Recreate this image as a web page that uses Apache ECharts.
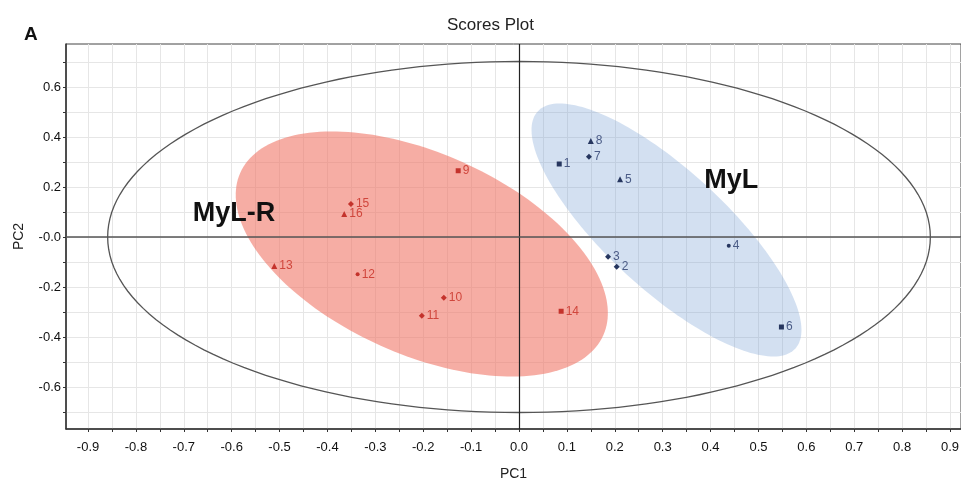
<!DOCTYPE html>
<html>
<head>
<meta charset="utf-8">
<script src="https://cdn.jsdelivr.net/npm/echarts@6/dist/echarts.min.js"></script>
<style>html,body{margin:0;padding:0;background:#fff;}#c{width:961px;height:484px;}</style>
</head>
<body>
<div id="c"></div>
<script>
// ---- data ----
const redIds   = ['9', '15', '16', '13', '12', '10', '11', '14'];
const redX     = [-0.127, -0.351, -0.365, -0.511, -0.337, -0.157, -0.203, 0.088];
const redY     = [0.265, 0.132, 0.092, -0.116, -0.149, -0.243, -0.315, -0.297];
const redShape = ['rect', 'diamond', 'triangle', 'triangle', 'circle', 'diamond', 'diamond', 'rect'];

const blueIds   = ['1', '7', '8', '5', '3', '2', '4', '6'];
const blueX     = [0.084, 0.146, 0.150, 0.211, 0.186, 0.204, 0.438, 0.548];
const blueY     = [0.292, 0.321, 0.384, 0.231, -0.079, -0.119, -0.035, -0.360];
const blueShape = ['rect', 'diamond', 'triangle', 'triangle', 'diamond', 'diamond', 'circle', 'rect'];

// confidence ellipses: centre + two conjugate semi-axis vectors (data units)
const ellipseOuter = { cx: 0, cy: 0, ux: 0.859, uy: 0, vx: 0, vy: 0.702 };
const ellipseRed   = { cx: -0.203, cy: -0.068, ux: 0.379, uy: -0.325, vx: -0.0857, vy: -0.367 };
const ellipseBlue  = { cx: 0.308, cy: 0.028, ux: 0.2689, uy: -0.4745, vx: -0.0844, vy: -0.1756 };

const groupNames = ['MyL-R', 'MyL'];
const groupNameX = [-0.595, 0.443];
const groupNameY = [0.092, 0.224];

const xTickLabels  = ['-0.9','-0.85','-0.8','-0.75','-0.7','-0.65','-0.6','-0.55','-0.5','-0.45','-0.4','-0.35','-0.3','-0.25','-0.2','-0.15','-0.1','-0.05','0.0','0.05','0.1','0.15','0.2','0.25','0.3','0.35','0.4','0.45','0.5','0.55','0.6','0.65','0.7','0.75','0.8','0.85','0.9'];
const xLabelTexts  = ['-0.9','-0.8','-0.7','-0.6','-0.5','-0.4','-0.3','-0.2','-0.1','0.0','0.1','0.2','0.3','0.4','0.5','0.6','0.7','0.8','0.9'];
const yTickLabels  = ['-0.7','-0.6','-0.5','-0.4','-0.3','-0.2','-0.1','0.0','0.1','0.2','0.3','0.4','0.5','0.6','0.7'];
const yLabelTexts  = ['-0.6','-0.4','-0.2','-0.0','0.2','0.4','0.6'];

// ---- build ----
const num = s => parseFloat(s);
const xTickVals = xTickLabels.map(num);
const xLabelVals = xLabelTexts.map(num);
const yTickVals = yTickLabels.map(num);
const yLabelVals = yLabelTexts.map(num);
function fmt(texts) {
  return v => {
    for (const t of texts) if (Math.abs(num(t) - v) < 1e-9) return t;
    return '';
  };
}

function ellipsePts(e, api) {
  const pts = [];
  const N = 180;
  for (let i = 0; i <= N; i++) {
    const t = 2 * Math.PI * i / N;
    pts.push(api.coord([e.cx + e.ux * Math.cos(t) + e.vx * Math.sin(t),
                        e.cy + e.uy * Math.cos(t) + e.vy * Math.sin(t)]));
  }
  return pts;
}

function pointData(xs, ys, ids, shapes) {
  const sizes = { rect: 5, diamond: 6, triangle: 6, circle: 4 };
  return xs.map((x, i) => ({ value: [x, ys[i]], name: ids[i], symbol: shapes[i], symbolSize: sizes[shapes[i]] }));
}

const font = 'Arial, "Liberation Sans", sans-serif';
const chart = echarts.init(document.getElementById('c'), null, { renderer: 'canvas' });
chart.setOption({
  animation: false,
  backgroundColor: '#fff',
  grid: { left: 66, right: 0, top: 44, bottom: 55, show: true, borderColor: '#444', borderWidth: 1, containLabel: false, outerBoundsMode: 'none' },
  xAxis: {
    type: 'value', min: -0.946, max: 0.923,
    name: 'PC1', nameLocation: 'middle', nameGap: 38,
    nameTextStyle: { fontFamily: font, fontSize: 14, color: '#222' },
    axisLine: { onZero: false, lineStyle: { color: '#333', width: 1.5 } },
    axisTick: { show: true, length: 3, customValues: xTickVals, lineStyle: { color: '#333' } },
    axisLabel: { customValues: xLabelVals, formatter: fmt(xLabelTexts), margin: 12, fontFamily: font, fontSize: 13, color: '#111' },
    splitLine: { show: true, lineStyle: { color: '#e6e6e6', width: 1 } }
  },
  yAxis: {
    type: 'value', min: -0.768, max: 0.772,
    name: 'PC2', nameLocation: 'middle', nameGap: 40,
    nameTextStyle: { fontFamily: font, fontSize: 14, color: '#222' },
    axisLine: { onZero: false, lineStyle: { color: '#333', width: 1.5 } },
    axisTick: { show: true, length: 3, customValues: yTickVals, lineStyle: { color: '#333' } },
    axisLabel: { customValues: yLabelVals, formatter: fmt(yLabelTexts), margin: 5, fontFamily: font, fontSize: 13, color: '#111' },
    splitLine: { show: true, lineStyle: { color: '#e6e6e6', width: 1 } }
  },
  graphic: [
    { type: 'text', left: 492 - 45, top: 17, style: { text: 'Scores Plot', font: '17px ' + font, fill: '#222' } },
    { type: 'text', left: 24, top: 25, style: { text: 'A', font: 'bold 19px ' + font, fill: '#111' } }
  ],
  series: [
    {
      type: 'custom', z: 1, silent: true, clip: true,
      data: [[0], [1]],
      renderItem: (params, api) => {
        const e = params.dataIndex === 0 ? ellipseRed : ellipseBlue;
        const fill = params.dataIndex === 0 ? 'rgba(240,118,104,0.6)' : 'rgba(120,160,212,0.33)';
        return { type: 'polygon', shape: { points: ellipsePts(e, api) }, style: { fill: fill, stroke: null } };
      }
    },
    {
      type: 'custom', z: 3, silent: true, clip: true,
      data: [[0]],
      renderItem: (params, api) => ({
        type: 'polyline', shape: { points: ellipsePts(ellipseOuter, api) },
        style: { fill: null, stroke: '#555', lineWidth: 1.3 }
      }),
      markLine: {
        silent: true, symbol: 'none', label: { show: false }, animation: false,
        data: [
          { xAxis: 0, lineStyle: { color: '#222', width: 1.2, type: 'solid' } },
          { yAxis: 0, lineStyle: { color: '#555', width: 1.6, type: 'solid' } }
        ]
      }
    },
    {
      type: 'scatter', z: 5, silent: true,
      data: pointData(redX, redY, redIds, redShape),
      itemStyle: { color: '#c4332c', opacity: 1 },
      label: { show: true, position: 'right', distance: 2, formatter: p => p.name, fontFamily: font, fontSize: 12, color: '#d0463c' }
    },
    {
      type: 'scatter', z: 5, silent: true,
      data: pointData(blueX, blueY, blueIds, blueShape),
      itemStyle: { color: '#26365f', opacity: 1 },
      label: { show: true, position: 'right', distance: 2, formatter: p => p.name, fontFamily: font, fontSize: 12, color: '#4a5b86' }
    },
    {
      type: 'scatter', z: 6, silent: true, symbolSize: 0,
      itemStyle: { opacity: 1 },
      data: groupNames.map((n, i) => ({ value: [groupNameX[i], groupNameY[i]], name: n })),
      label: { show: true, position: 'inside', formatter: p => p.name, fontFamily: font, fontWeight: 'bold', fontSize: 27, color: '#111' }
    }
  ]
});
</script>
</body>
</html>
